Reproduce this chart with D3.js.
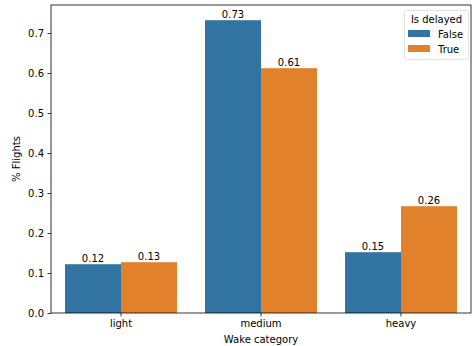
<!DOCTYPE html>
<html><head><meta charset="utf-8">
<script src="https://cdn.jsdelivr.net/npm/d3@7"></script>
<style>body{margin:0;background:#fff}svg{display:block}text{font-family:"DejaVu Sans",sans-serif}</style>
</head><body><svg id="c" width="473" height="346"></svg>
<script>
const categories = ["light","medium","heavy"];
const series = ["False","True"];
const valuesFalse = [0.122, 0.732, 0.152];
const valuesTrue = [0.127, 0.612, 0.267];
const labelsFalse = ["0.12","0.73","0.15"];
const labelsTrue = ["0.13","0.61","0.26"];
const yTicks = [0,0.1,0.2,0.3,0.4,0.5,0.6,0.7];
const colors = ["#3274a1","#e1812c"];

const svg = d3.select("#c");
const L=51, R=471, T=5, B=313;
const x = d3.scaleBand().domain(categories).range([L,R]).paddingInner(0.2).paddingOuter(0.1);
const xs = d3.scaleBand().domain(series).range([0, x.bandwidth()]);
const y = d3.scaleLinear().domain([0, 0.77]).range([B,T]);

const data = [];
categories.forEach((c,i)=>{
  data.push({c, s:"False", v:valuesFalse[i], l:labelsFalse[i]});
  data.push({c, s:"True", v:valuesTrue[i], l:labelsTrue[i]});
});
const cs = d3.scaleOrdinal().domain(series).range(colors);

svg.append("g").selectAll("rect").data(data).join("rect")
  .attr("x", d=>x(d.c)+xs(d.s)).attr("width", xs.bandwidth())
  .attr("y", d=>y(d.v)).attr("height", d=>B-y(d.v)).attr("fill", d=>cs(d.s));

svg.append("g").selectAll("text").data(data).join("text")
  .attr("x", d=>x(d.c)+xs(d.s)+xs.bandwidth()/2).attr("y", d=>y(d.v)-2)
  .attr("text-anchor","middle").attr("font-size",10).attr("fill","#000").text(d=>d.l);

// axes
const ya = svg.append("g").attr("transform",`translate(${L},0)`)
  .call(d3.axisLeft(y).tickValues(yTicks).tickFormat(d3.format(".1f")).tickSize(3.5).tickPadding(3.5));
ya.select(".domain").remove();
ya.selectAll("text").attr("font-size",10).attr("fill","#000");
ya.selectAll("line").attr("stroke","#000").attr("stroke-width",0.8);

const xa = svg.append("g").attr("transform",`translate(0,${B})`)
  .call(d3.axisBottom(x).tickSize(3.5).tickPadding(3.5));
xa.select(".domain").remove();
xa.selectAll("text").attr("font-size",10).attr("fill","#000");
xa.selectAll("line").attr("stroke","#000").attr("stroke-width",0.8);

// spines
svg.append("rect").attr("x",L).attr("y",T).attr("width",R-L).attr("height",B-T)
  .attr("fill","none").attr("stroke","#000").attr("stroke-width",0.8);

// axis labels
svg.append("text").attr("x",(L+R)/2).attr("y",343).attr("text-anchor","middle")
  .attr("font-size",10).text("Wake category");
svg.append("text").attr("transform",`translate(20,${(T+B)/2}) rotate(-90)`).attr("text-anchor","middle")
  .attr("font-size",10).text("% Flights");

// legend
const lg = svg.append("g");
lg.append("rect").attr("x",404.5).attr("y",10.5).attr("width",64).attr("height",49)
  .attr("rx",2).attr("fill","#fff").attr("fill-opacity",0.8).attr("stroke","#d9d9d9").attr("stroke-width",0.8);
lg.append("text").attr("x",436.5).attr("y",23).attr("text-anchor","middle").attr("font-size",10).text("Is delayed");
series.forEach((s,i)=>{
  lg.append("rect").attr("x",408).attr("y",30+i*15).attr("width",22).attr("height",7).attr("fill",cs(s));
  lg.append("text").attr("x",438).attr("y",37.5+i*15).attr("font-size",10).text(s);
});
</script></body></html>
